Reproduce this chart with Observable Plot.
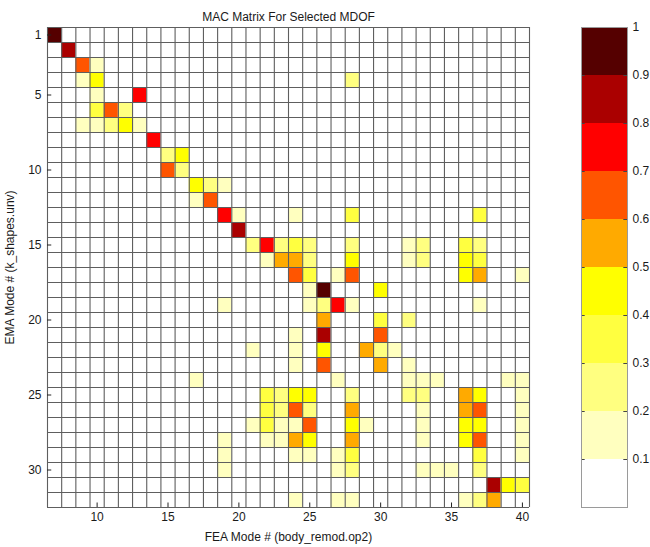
<!DOCTYPE html>
<html><head><meta charset="utf-8">
<script src="https://cdn.jsdelivr.net/npm/d3@7"></script>
<script src="https://cdn.jsdelivr.net/npm/@observablehq/plot@0.6"></script>
<style>
html,body{margin:0;padding:0;background:#fff;overflow:hidden}
#wrap{position:relative;width:650px;height:547px}
#wrap svg{position:absolute;left:0;top:0}
</style></head><body><div id="wrap"></div>
<script>
const chartTitle = "MAC Matrix For Selected MDOF";
const xLabel = "FEA Mode # (body_remod.op2)";
const yLabel = "EMA Mode # (k_shapes.unv)";
const feaModes = d3.range(7, 41);   // columns 7..40
const emaModes = d3.range(1, 33);   // rows 1..32
const xTicks = [10, 15, 20, 25, 30, 35, 40];
const yTicks = [1, 5, 10, 15, 20, 25, 30];
const levels = [0.1, 0.2, 0.3, 0.4, 0.5, 0.6, 0.7, 0.8, 0.9];
const levelColors = ["#ffffff", "#ffffbf", "#ffff80", "#ffff40", "#ffff00", "#ffaa00", "#ff5500", "#ff0000", "#aa0000", "#550000"];
const colorbarTicks = [0.1, 0.2, 0.3, 0.4, 0.5, 0.6, 0.7, 0.8, 0.9, 1];

// Non-negligible MAC entries: [EMA mode (row), FEA mode (column), MAC]
const macCells = [
  [1, 7, .95],
  [2, 8, .85],
  [3, 9, .65], [3, 10, .15],
  [4, 9, .15], [4, 10, .45], [4, 28, .25],
  [5, 10, .15], [5, 13, .75],
  [6, 10, .35], [6, 11, .65], [6, 12, .25],
  [7, 9, .15], [7, 10, .15], [7, 11, .25], [7, 12, .45], [7, 13, .15],
  [8, 14, .75],
  [9, 15, .25], [9, 16, .45],
  [10, 15, .65], [10, 16, .25],
  [11, 17, .45], [11, 18, .25], [11, 19, .15],
  [12, 17, .15], [12, 18, .65],
  [13, 19, .75], [13, 20, .15], [13, 24, .15], [13, 28, .35], [13, 37, .35],
  [14, 20, .85],
  [15, 21, .25], [15, 22, .75], [15, 23, .25], [15, 24, .35], [15, 25, .25], [15, 28, .25], [15, 32, .15], [15, 33, .25], [15, 36, .35], [15, 37, .25],
  [16, 22, .15], [16, 23, .55], [16, 24, .55], [16, 25, .25], [16, 28, .45], [16, 32, .15], [16, 33, .25], [16, 36, .45], [16, 37, .35],
  [17, 24, .65], [17, 25, .35], [17, 27, .15], [17, 28, .65], [17, 36, .45], [17, 37, .55], [17, 40, .15],
  [18, 25, .15], [18, 26, .95], [18, 30, .45],
  [19, 25, .15], [19, 26, .25], [19, 27, .75], [19, 28, .15], [19, 19, .15], [19, 37, .15],
  [20, 26, .55], [20, 30, .35], [20, 32, .25],
  [21, 24, .15], [21, 26, .85], [21, 30, .65],
  [22, 21, .15], [22, 24, .15], [22, 26, .45], [22, 29, .55], [22, 30, .25], [22, 31, .15],
  [23, 24, .15], [23, 26, .65], [23, 30, .55], [23, 32, .15],
  [24, 17, .15], [24, 27, .15], [24, 32, .15], [24, 33, .15], [24, 34, .15], [24, 39, .15], [24, 40, .15],
  [25, 22, .35], [25, 23, .25], [25, 24, .45], [25, 25, .45], [25, 28, .25], [25, 32, .25], [25, 33, .25], [25, 36, .55], [25, 37, .45], [25, 40, .15],
  [26, 22, .35], [26, 23, .25], [26, 24, .65], [26, 25, .25], [26, 28, .55], [26, 33, .15], [26, 36, .55], [26, 37, .65], [26, 40, .15],
  [27, 21, .15], [27, 22, .35], [27, 23, .15], [27, 24, .15], [27, 25, .65], [27, 28, .45], [27, 29, .15], [27, 33, .15], [27, 36, .45], [27, 37, .45], [27, 40, .15],
  [28, 19, .15], [28, 22, .15], [28, 23, .15], [28, 24, .55], [28, 25, .45], [28, 28, .55], [28, 33, .15], [28, 36, .45], [28, 37, .65], [28, 40, .15],
  [29, 19, .15], [29, 24, .15], [29, 25, .15], [29, 27, .15], [29, 28, .35], [29, 37, .35], [29, 40, .15],
  [30, 19, .15], [30, 27, .15], [30, 28, .25], [30, 33, .15], [30, 34, .15], [30, 35, .15], [30, 37, .25],
  [31, 38, .85], [31, 39, .45], [31, 40, .35],
  [32, 24, .15], [32, 27, .15], [32, 28, .15], [32, 36, .15], [32, 37, .25], [32, 38, .55]
];

const cells = macCells.map(([ema, fea, mac]) => ({ema, fea, mac}));
const colorScale = {type: "threshold", domain: levels, range: levelColors};
const font = {fontFamily: "'Liberation Sans', Arial, sans-serif", fontSize: "12px", color: "#1a1a1a", background: "transparent", overflow: "visible"};

const xEdges = [feaModes[0] - 0.5, ...feaModes.map(d => d + 0.5)];
const yEdges = [emaModes[0] - 0.5, ...emaModes.map(d => d + 0.5)];

const main = Plot.plot({
  width: 650, height: 547,
  marginLeft: 47, marginRight: 121, marginTop: 27, marginBottom: 40,
  x: {domain: [xEdges[0], xEdges[xEdges.length - 1]]},
  y: {domain: [yEdges[0], yEdges[yEdges.length - 1]], reverse: true},
  color: colorScale,
  style: font,
  marks: [
    Plot.rect(cells, {x1: d => d.fea - 0.5, x2: d => d.fea + 0.5, y1: d => d.ema - 0.5, y2: d => d.ema + 0.5, fill: "mac"}),
    Plot.ruleX(xEdges, {stroke: "#5e5e5e", strokeWidth: 1.1}),
    Plot.ruleY(yEdges, {stroke: "#5e5e5e", strokeWidth: 1.1}),
    Plot.ruleX(xTicks, {y1: yEdges[yEdges.length - 1], y2: yEdges[yEdges.length - 1] - 0.3, stroke: "#222"}),
    Plot.ruleY(yTicks, {x1: xEdges[0], x2: xEdges[0] + 0.3, stroke: "#222"}),
    Plot.axisX({ticks: xTicks, tickSize: 0, tickPadding: 5, label: xLabel, labelAnchor: "center", labelOffset: 33, labelArrow: "none"}),
    Plot.axisY({ticks: yTicks, tickSize: 0, tickPadding: 6, label: yLabel, labelAnchor: "center", labelOffset: 42, labelArrow: "none"}),
    Plot.text([chartTitle], {frameAnchor: "top", dy: -15, fontSize: 12, fill: "#1a1a1a"})
  ]
});

const binLo = [0, ...levels];
const binHi = [...levels, 1];
const bins = binLo.map((lo, i) => ({lo, hi: binHi[i], mid: (lo + binHi[i]) / 2}));

const bar = Plot.plot({
  width: 650, height: 547,
  marginLeft: 581, marginRight: 23, marginTop: 27, marginBottom: 40,
  x: {domain: [0, 1], axis: null},
  y: {domain: [0, 1]},
  color: colorScale,
  style: font,
  marks: [
    Plot.rect(bins, {x1: 0, x2: 1, y1: "lo", y2: "hi", fill: "mid"}),
    Plot.ruleY(levels, {x1: 0, x2: 0.08, stroke: "#444"}),
    Plot.ruleY(levels, {x1: 0.92, x2: 1, stroke: "#444"}),
    Plot.frame({stroke: "#9a9a9a"}),
    Plot.axisY({anchor: "right", ticks: colorbarTicks, tickSize: 0, tickPadding: 5, tickFormat: d => String(d), label: null})
  ]
});

const wrap = document.getElementById("wrap");
wrap.appendChild(main);
wrap.appendChild(bar);
</script>
</body></html>
